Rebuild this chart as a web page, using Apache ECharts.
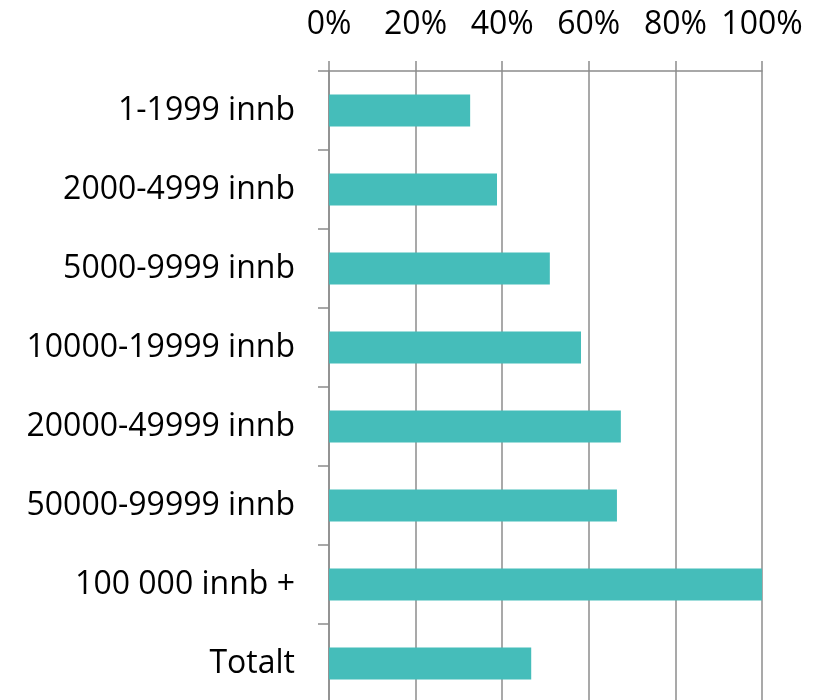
<!DOCTYPE html>
<html>
<head>
<meta charset="utf-8">
<script src="https://cdn.jsdelivr.net/npm/echarts@6/dist/echarts.min.js"></script>
<style>
  html, body { margin: 0; padding: 0; background: #fff; }
  #chart { width: 823px; height: 700px; }
</style>
</head>
<body>
<div id="chart"></div>
<script>
// kategorier og verdier (andel i %)
var categories = ['1-1999 innb', '2000-4999 innb', '5000-9999 innb', '10000-19999 innb',
  '20000-49999 innb', '50000-99999 innb', '100 000 innb +', 'Totalt'];
var values = [32.6, 38.8, 51.0, 58.2, 67.4, 66.5, 100, 46.7];
var xTicks = [0, 20, 40, 60, 80, 100];

var chart = echarts.init(document.getElementById('chart'));
var font = '"Open Sans", "Noto Sans", sans-serif';
var lineColor = '#8c8c8c';

var option = {
  animation: false,
  grid: { left: 329, width: 433, top: 71, height: 632, outerBoundsMode: 'none' },
  xAxis: {
    type: 'value',
    position: 'top',
    min: xTicks[0],
    max: xTicks[xTicks.length - 1],
    interval: 20,
    axisLine: { show: true, lineStyle: { color: lineColor, width: 1.5 } },
    axisTick: { show: true, length: 10, lineStyle: { color: lineColor, width: 1.5 } },
    splitLine: { show: true, lineStyle: { color: lineColor, width: 1.5 } },
    axisLabel: {
      margin: 30,
      color: '#000',
      fontFamily: font,
      fontSize: 32,
      formatter: '{value}%'
    }
  },
  yAxis: {
    type: 'category',
    inverse: true,
    data: categories,
    axisLine: { show: true, lineStyle: { color: lineColor, width: 1.5 } },
    axisTick: { show: true, length: 11, lineStyle: { color: lineColor, width: 1.5 } },
    axisLabel: {
      margin: 34,
      padding: [4, 0, 0, 0],
      color: '#000',
      fontFamily: font,
      fontSize: 32
    }
  },
  series: [{
    type: 'bar',
    data: values,
    barWidth: 32,
    itemStyle: { color: '#45bdba' }
  }]
};
chart.setOption(option);
</script>
</body>
</html>
